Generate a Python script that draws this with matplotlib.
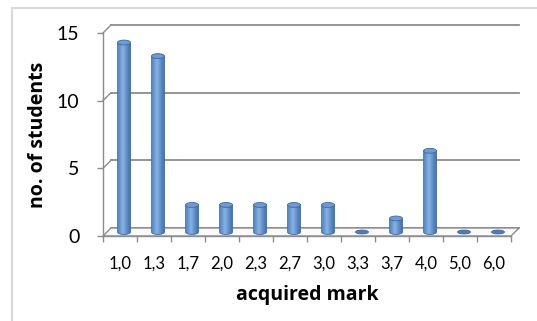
import numpy as np
import matplotlib
matplotlib.use("Agg")
import matplotlib.pyplot as plt
from matplotlib.patches import Rectangle, Ellipse, PathPatch, Polygon
from matplotlib.path import Path
from matplotlib.transforms import ScaledTranslation, IdentityTransform

plt.rcParams['font.family'] = ['Lato', 'DejaVu Sans']

# data
marks = ["1,0", "1,3", "1,7", "2,0", "2,3", "2,7", "3,0", "3,3", "3,7", "4,0", "5,0", "6,0"]
students = [14, 13, 2, 2, 2, 2, 2, 0, 1, 6, 0, 0]
y_ticks = [0, 5, 10, 15]

W, H = 537, 321
fig = plt.figure(figsize=(W / 100, H / 100), dpi=100)
fig.patch.set_facecolor("white")

# chart frame (light grey, runs off right/bottom edge)
fig.add_artist(Rectangle((12 / W, -0.1), 1.2, (H - 8) / H + 0.1, transform=fig.transFigure,
                         fill=False, edgecolor="#d9d9d9", lw=1.5))

# front plane of the 3d box
ax = fig.add_axes([103 / W, (H - 236) / H, 408 / W, 203 / H])
ax.set_xlim(-0.5, len(marks) - 0.5)
ax.set_ylim(0, 15)
ax.patch.set_visible(False)

grid_c = "#8c8c8c"
depth = 8 / 100  # inches
back = ax.transData + ScaledTranslation(depth, depth, fig.dpi_scale_trans)
mid = ax.transData + ScaledTranslation(depth / 2, depth / 2, fig.dpi_scale_trans)
pix = IdentityTransform()

x0, x1 = -0.5, len(marks) - 0.5

# back wall gridlines and left wall edges
for yv in y_ticks:
    ax.plot([x0, x1], [yv, yv], color=grid_c, lw=1.3, transform=back, clip_on=False, zorder=1)
for yv in y_ticks[1:]:
    p_front = ax.transData.transform((x0, yv))
    p_back = back.transform((x0, yv))
    ax.add_line(plt.Line2D([p_front[0], p_back[0]], [p_front[1], p_back[1]],
                           transform=pix, color=grid_c, lw=1.0, clip_on=False, zorder=1))

# floor
fl = [ax.transData.transform((x0, 0)), ax.transData.transform((x1, 0)),
      back.transform((x1, 0)), back.transform((x0, 0))]
ax.add_patch(Polygon(fl, closed=True, transform=pix, facecolor="#fafafa",
                     edgecolor=grid_c, lw=1.0, zorder=1.5, clip_on=False))

# cylinders
bw = 0.38
eh = 0.36
grad = np.linspace(0, 1, 64)
shade = 1 - np.abs(grad - 0.38) * 1.2
cmap = matplotlib.colors.LinearSegmentedColormap.from_list(
    "cyl", ["#30609a", "#4f81bd", "#8ab1e2"])
img = shade.reshape(1, -1)

for i, v in enumerate(students):
    xl, xr = i - bw / 2, i + bw / 2
    if v > 0:
        t = np.linspace(np.pi, 2 * np.pi, 30)
        arc = np.column_stack([i + bw / 2 * np.cos(t), eh / 2 * np.sin(t)])
        verts = np.vstack([[[xl, v], [xl, 0]], arc, [[xr, 0], [xr, v], [xl, v]]])
        path = Path(verts, closed=True)
        outline = PathPatch(path, facecolor="none", edgecolor="#3a6aa3", lw=0.6,
                            transform=mid, zorder=3.1, clip_on=False)
        im = ax.imshow(img, cmap=cmap, vmin=0, vmax=1, aspect="auto",
                       extent=(xl, xr, -eh, v), zorder=3, interpolation="bilinear")
        im.set_transform(mid)
        im.set_clip_path(PathPatch(path, transform=mid))
        ax.add_patch(outline)
        ax.add_patch(Ellipse((i, v), bw, eh, facecolor="#6e9bd3", edgecolor="#3a6aa3",
                             lw=0.6, transform=mid, zorder=3.2, clip_on=False))
    else:
        ax.add_patch(Ellipse((i, 0), bw, eh * 0.8, facecolor="#4a7cb9", edgecolor="#3a6aa3",
                             lw=0.6, transform=mid, zorder=3.2, clip_on=False))

ax.set_xlim(-0.5, len(marks) - 0.5)
ax.set_ylim(0, 15)

# axes styling
for s in ["top", "right"]:
    ax.spines[s].set_visible(False)
ax.spines["left"].set_color(grid_c)
ax.spines["bottom"].set_color(grid_c)
ax.spines["left"].set_linewidth(1.0)
ax.spines["bottom"].set_linewidth(1.0)
ax.spines["left"].set_zorder(2)
ax.spines["bottom"].set_zorder(2)

ax.set_yticks(y_ticks)
ax.tick_params(axis="y", length=4, color=grid_c, width=1.0, pad=13, labelsize=14)
ax.set_xticks(range(len(marks)))
ax.set_xticklabels(marks)
ax.set_xticks(np.arange(-0.5, len(marks)), minor=True)
ax.tick_params(axis="x", which="major", length=0, pad=14, labelsize=12)
ax.tick_params(axis="x", which="minor", length=4, color=grid_c, width=1.0)

fig.text(38 / W, 1 - 135 / H, "no. of students", rotation=90, ha="center", va="center",
         fontsize=14, fontweight="bold", family=["Open Sans", "DejaVu Sans"])
fig.text(307 / W, 1 - 295 / H, "acquired mark", ha="center", va="center",
         fontsize=14, fontweight="bold", family=["Open Sans", "DejaVu Sans"])

fig.savefig("out.png", dpi=100, facecolor="white")
